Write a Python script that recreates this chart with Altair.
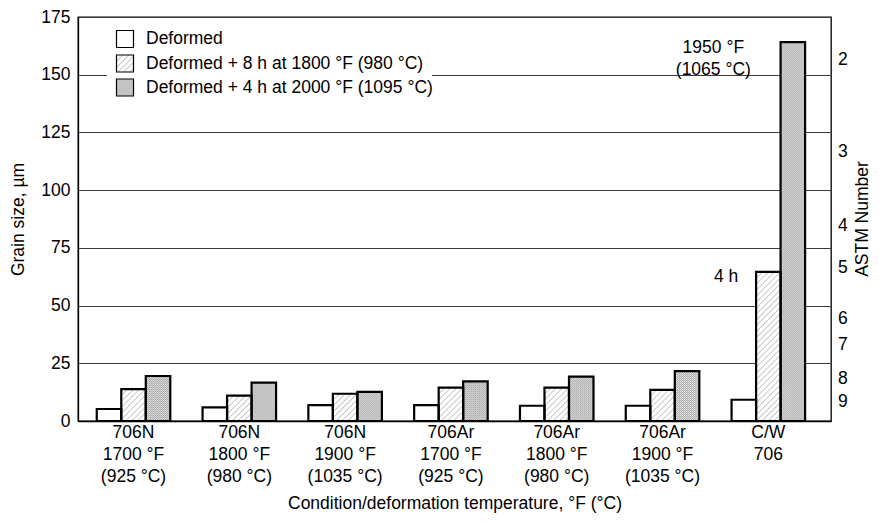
import base64
import altair as alt
import pandas as pd

# ---------------- data ----------------
groups = [
    "706N|1700 °F|(925 °C)",
    "706N|1800 °F|(980 °C)",
    "706N|1900 °F|(1035 °C)",
    "706Ar|1700 °F|(925 °C)",
    "706Ar|1800 °F|(980 °C)",
    "706Ar|1900 °F|(1035 °C)",
    "C/W|706",
]
series = [
    "Deformed",
    "Deformed + 8 h at 1800 °F (980 °C)",
    "Deformed + 4 h at 2000 °F (1095 °C)",
]
deformed = [5.2, 5.9, 6.9, 6.9, 6.6, 6.6, 9.2]
deformed_8h = [13.8, 11.0, 11.8, 14.5, 14.5, 13.5, 64.6]
deformed_4h = [19.5, 16.6, 12.6, 17.2, 19.2, 21.6, 164.1]

y_ticks = [0, 25, 50, 75, 100, 125, 150, 175]
astm_numbers = [2, 3, 4, 5, 6, 7, 8, 9]
astm_grain = [156.5, 116.5, 84.3, 66.2, 44.3, 33.1, 18.1, 8.2]

ann_text = ["1950 °F\n(1065 °C)", "4 h"]
ann_group = ["C/W|706", "C/W|706"]
ann_series = [series[2], series[1]]
ann_value = [164.1, 64.6]

rows = []
for i, g in enumerate(groups):
    for s, vals in zip(series, [deformed, deformed_8h, deformed_4h]):
        rows.append({"group": g, "series": s, "value": vals[i]})
df = pd.DataFrame(rows)

ann_df = pd.DataFrame({"group": ann_group, "series": ann_series,
                       "value": ann_value, "text": ann_text})
astm_df = pd.DataFrame({"astm": astm_numbers, "grain": astm_grain})

# ---------------- style ----------------
FONT = "Liberation Sans, Arial, Helvetica, sans-serif"
FS = 17.5
W, H = 753, 404
TOP = 9

hatch_svg = (
    '<svg xmlns="http://www.w3.org/2000/svg">'
    '<defs><pattern id="h" width="4.2" height="4.2" patternUnits="userSpaceOnUse" '
    'patternTransform="rotate(45)"><rect width="4.2" height="4.2" fill="white"/>'
    '<line x1="0" y1="-1" x2="0" y2="6" stroke="#8a8a8a" stroke-width="0.9"/>'
    '</pattern></defs><rect width="100%" height="100%" fill="url(#h)"/></svg>'
)
dot_svg = (
    '<svg xmlns="http://www.w3.org/2000/svg">'
    '<defs><pattern id="d" width="2" height="2" patternUnits="userSpaceOnUse">'
    '<rect width="2" height="2" fill="#f0f0f0"/>'
    '<rect width="1" height="1" fill="#969696"/>'
    '<rect x="1" y="1" width="1" height="1" fill="#969696"/>'
    '</pattern></defs><rect width="100%" height="100%" fill="url(#d)"/></svg>'
)
hatch_uri = "data:image/svg+xml;base64," + base64.b64encode(hatch_svg.encode()).decode()
dot_uri = "data:image/svg+xml;base64," + base64.b64encode(dot_svg.encode()).decode()
fallback_fills = ["white", "#f3f3f3", "#c8c8c8"]

y_scale = alt.Scale(domain=[0, 175], nice=False, zero=True)
y_axis = alt.Axis(
    values=y_ticks, title="Grain size, µm", grid=True,
    gridColor="#3a3a3a", gridWidth=1, ticks=False, tickSize=0,
    labelPadding=8, titleX=-60, titleY=H / 2, titleAngle=270,
    titleAlign="center", titleBaseline="middle",
)

x_enc = alt.X(
    "group:N", sort=groups,
    scale=alt.Scale(paddingInner=0.305, paddingOuter=0.211, align=0.42),
    axis=alt.Axis(
        title="Condition/deformation temperature, °F (°C)",
        labelExpr="split(datum.label, '|')",
        labelAngle=0, ticks=False, tickSize=0, labelPadding=16.3,
        labelBaseline="alphabetic", labelLineHeight=22.3, labelOverlap=False,
        titleY=87, titleBaseline="alphabetic",
    ),
)
xoff = alt.XOffset("series:N", sort=series,
                   scale=alt.Scale(paddingInner=0, paddingOuter=0))
y_enc = alt.Y("value:Q", scale=y_scale, axis=y_axis)

fill_layer = alt.Chart(df).mark_bar(strokeWidth=0).encode(
    x=x_enc, xOffset=xoff, y=y_enc,
    fill=alt.Fill("series:N", scale=alt.Scale(domain=series, range=fallback_fills),
                  legend=None),
)

hatch_layer = alt.Chart(df).transform_filter(
    alt.datum.series == series[1]
).mark_image(aspect=False).encode(
    x=x_enc, xOffset=xoff, y=y_enc, y2=alt.datum(0), url=alt.value(hatch_uri)
)
dot_layer = alt.Chart(df).transform_filter(
    alt.datum.series == series[2]
).mark_image(aspect=False).encode(
    x=x_enc, xOffset=xoff, y=y_enc, y2=alt.datum(0), url=alt.value(dot_uri)
)

stroke_layer = alt.Chart(df).mark_bar(
    fillOpacity=0, stroke="black", strokeWidth=2.2
).encode(x=x_enc, xOffset=xoff, y=y_enc)

ann1 = alt.Chart(ann_df.iloc[[0]]).mark_text(
    align="center", baseline="middle", lineBreak="\n", lineHeight=21.7,
    dx=-79.5, dy=6, font=FONT, fontSize=FS, color="black"
).encode(x=x_enc, xOffset=xoff, y=y_enc, text="text:N")
ann2 = alt.Chart(ann_df.iloc[[1]]).mark_text(
    align="right", baseline="middle", dx=-30, dy=5.5,
    font=FONT, fontSize=FS, color="black"
).encode(x=x_enc, xOffset=xoff, y=y_enc, text="text:N")

astm_labels = alt.Chart(astm_df).mark_text(
    align="left", baseline="middle", font=FONT, fontSize=FS, color="black"
).encode(x=alt.value(760), y=alt.Y("grain:Q", scale=y_scale, axis=y_axis),
         text="astm:N")
astm_title = alt.Chart(pd.DataFrame({"t": ["ASTM Number"]})).mark_text(
    angle=270, align="center", baseline="alphabetic", font=FONT, fontSize=FS,
    color="black"
).encode(x=alt.value(789.5), y=alt.value(H / 2), text="t:N")

# legend
legend_layers = [
    alt.Chart(pd.DataFrame({"k": [0]})).mark_rect(fill="white").encode(
        x=alt.value(29), x2=alt.value(354), y=alt.value(8), y2=alt.value(83))
]
legend_y = [22, 46.5, 70.5]
legend_uris = [None, hatch_uri, dot_uri]
for lab, ly, uri in zip(series, legend_y, legend_uris):
    one = pd.DataFrame({"label": [lab]})
    if uri is not None:
        legend_layers.append(alt.Chart(one).mark_image(aspect=False).encode(
            x=alt.value(38.5), x2=alt.value(55.5),
            y=alt.value(ly - 8.5), y2=alt.value(ly + 8.5), url=alt.value(uri)))
    legend_layers.append(alt.Chart(one).mark_rect(
        fillOpacity=0, stroke="black", strokeWidth=1.2).encode(
        x=alt.value(38.5), x2=alt.value(55.5),
        y=alt.value(ly - 8.5), y2=alt.value(ly + 8.5)))
    legend_layers.append(alt.Chart(one).mark_text(
        align="left", baseline="middle", font=FONT, fontSize=FS, color="black"
    ).encode(x=alt.value(68), y=alt.value(ly), text="label:N"))

chart = alt.layer(
    fill_layer, hatch_layer, dot_layer, stroke_layer,
    ann1, ann2, astm_labels, astm_title, *legend_layers
).properties(
    width=W, height=H,
    padding={"left": 70, "top": TOP, "right": 40, "bottom": 94},
    autosize=alt.AutoSizeParams(type="none"),
).configure_view(
    stroke="black", strokeWidth=1.3
).configure_axis(
    domainColor="black", domainWidth=1.3, labelColor="black", titleColor="black",
    labelFont=FONT, titleFont=FONT, labelFontSize=FS, titleFontSize=FS,
    titleFontWeight="normal",
)

chart.save("out.html", embed_options={"renderer": "svg", "actions": False})
